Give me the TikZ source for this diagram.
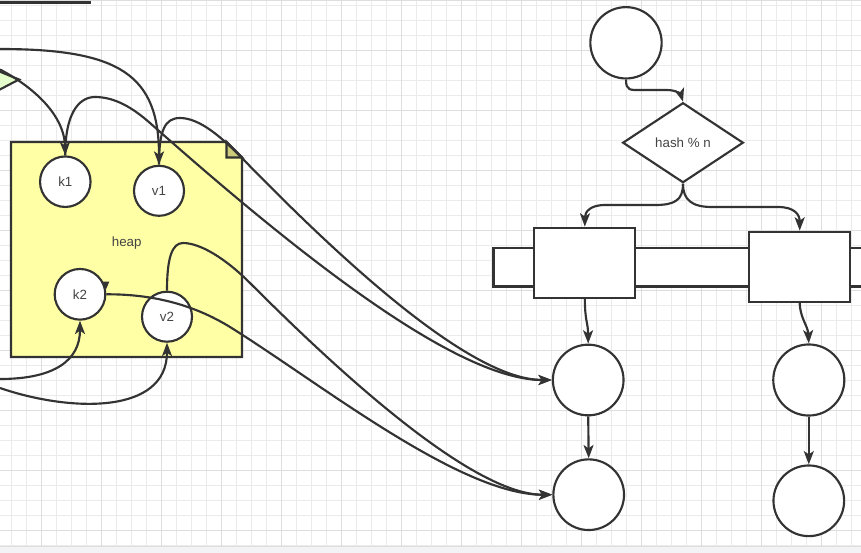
\documentclass[tikz,border=0pt]{standalone}
\usepackage{fontspec}
\setmainfont{Liberation Sans}
\usetikzlibrary{shapes.geometric,arrows.meta,calc}
\definecolor{dk}{HTML}{333333}
\definecolor{tx}{HTML}{444444}
\definecolor{gminor}{HTML}{EBEBEB}
\definecolor{gmajor}{HTML}{DEDEDE}
\definecolor{notefill}{HTML}{FFFFA6}
\definecolor{notefold}{HTML}{CCCC7A}
\definecolor{greenfill}{HTML}{E4FFCC}
\definecolor{band}{HTML}{F3F3F5}
\tikzset{
  ln/.style={draw=dk, line width=1.6pt},
  arr/.style={ln, -{Stealth[length=10pt,width=7.5pt,inset=2.5pt]}},
  circ/.style={circle, draw=dk, fill=white, line width=1.6pt, inner sep=0pt, font=\fontsize{10pt}{12pt}\selectfont, text=tx},
  boxs/.style={rectangle, draw=dk, fill=white, line width=1.6pt, inner sep=0pt},
  gmin/.style={draw=gminor, line width=0.75pt},
  gmaj/.style={draw=gmajor, line width=0.75pt},
}
\begin{document}
\begin{tikzpicture}[x=0.75pt,y=-0.75pt]
\clip (0,0) rectangle (861,553);
\fill[white] (0,0) rectangle (861,553);
% grid
\foreach \i in {0,...,58} { \draw[gmin] ({-3.3+15*\i},0) -- ({-3.3+15*\i},553); }
\foreach \i in {0,...,37} { \draw[gmin] (0,{5+15*\i}) -- (861,{5+15*\i}); }
\foreach \i in {0,...,14} { \draw[gmaj] ({41.7+60*\i},0) -- ({41.7+60*\i},553); }
\foreach \i in {0,...,9} { \draw[gmaj] (0,{50+60*\i}) -- (861,{50+60*\i}); }
\fill[band] (0,547) rectangle (861,553);
\draw[draw=gmajor, line width=0.9pt] (0,546.8) -- (861,546.8);
\draw[draw=gmajor, line width=1pt] (0,0.7) -- (861,0.7);
\draw[dk, line width=1.8pt] (0,2.7) -- (90.7,2.7);
% green triangle
\filldraw[ln, fill=greenfill] (-3,70.5) -- (19,79.5) -- (-3,91) -- cycle;
% heap note
\node[minimum width=173.25pt, minimum height=161.25pt, inner sep=0pt, outer sep=0pt] (heap) at (126.5,249.5) {};
\filldraw[ln, fill=notefill] (heap.north west) -- ($(heap.north east)+(-15.5,0)$) -- ($(heap.north east)+(0,15.5)$) -- (heap.south east) -- (heap.south west) -- cycle;
\filldraw[ln, fill=notefold] ($(heap.north east)+(-15.5,0)$) -- ($(heap.north east)+(-15.5,15.5)$) -- ($(heap.north east)+(0,15.5)$) -- cycle;
\node[font=\fontsize{10pt}{12pt}\selectfont, text=tx] (heaplbl) at (126.7,243) {heap};
% heap circles
\node[circ, minimum size=37.9pt] (k1) at (65.3,181.7) {k1};
\node[circ, minimum size=37.5pt] (v1) at (159,190.8) {v1};
\node[circ, minimum size=38pt] (k2) at (80,294.3) {k2};
\node[circ, minimum size=37.5pt] (v2) at (167,316.7) {v2};
\fill[dk] ($(k2.center)+(22.3,-12.6)$) -- ++(7,0) -- ++(-3.3,7.6) -- cycle;
% right side
\node[circ, minimum size=53.5pt] (top) at (626,42.8) {};
\node[diamond, draw=dk, fill=white, line width=1.6pt, minimum width=90.5pt, minimum height=60pt, inner sep=0pt, aspect=1.5, font=\fontsize{10pt}{12pt}\selectfont, text=tx] (hash) at (683,142.7) {hash \% n};
\draw[ln, fill=white] (493.5,248.3) rectangle (880,286.5);
\node[boxs, minimum width=75.75pt, minimum height=52.5pt] (b1) at (584.8,262.7) {};
\node[boxs, minimum width=75.5pt, minimum height=52.5pt] (b2) at (799.7,266.7) {};
\node[circ, minimum size=53pt] (A) at (588.2,380) {};
\node[circ, minimum size=53pt] (B) at (588.7,494.7) {};
\node[circ, minimum size=53.3pt] (C) at (808.8,380) {};
\node[circ, minimum size=53pt] (D) at (808.8,500.8) {};
% free ends
\coordinate (L1) at (0,49);
\coordinate (L2) at (0,69.5);
\coordinate (L3) at (0,379);
\coordinate (L4) at (0,388);
% connectors left
\draw[arr] (L1) .. controls (120,49) and (159,75) .. (v1.north);
\draw[arr] (L2) .. controls (28,84) and (64,112) .. (k1.north);
\draw[arr] (k1.north) .. controls (65,115) and (78,97) .. (95,97) .. controls (115,97) and (133,108) .. (150,123) .. controls (310,265) and (460,380) .. (A.west);
\draw[arr] (v1.north) .. controls (159,130) and (165,118) .. (180,118) .. controls (200,118) and (222,138) .. (240,156) .. controls (370,290) and (480,380) .. (A.west);
\draw[arr] (v2.north) .. controls (167,258) and (172,243) .. (183,243) .. controls (200,243) and (225,258) .. (250,283) .. controls (330,363) and (470,495) .. (B.west);
\draw[arr] (k2.east) .. controls (160,294) and (200,308.5) .. (230,327) .. controls (320,383) and (460,495) .. (B.west);
\draw[arr] (L3) .. controls (55,379) and (80,360) .. (k2.south);
\draw[arr] (L4) .. controls (70,412) and (167,415) .. (v2.south);
% connectors right
\draw[arr] (top.south) .. controls (626,91) and (630,90) .. (642,90) -- (667,90) .. controls (677,90) and (681,95) .. (hash.north);
\draw[arr] (hash.south) .. controls (683,200) and (675,205) .. (655,205) -- (605,205) .. controls (590,205) and (585,212) .. (b1.north);
\draw[arr] (hash.south) .. controls (683,200) and (692,207) .. (712,207) -- (778,207) .. controls (795,207) and (799.7,215) .. (b2.north);
\draw[arr] (b1.south) .. controls (585,322) and (588,322) .. (A.north);
\draw[arr] (b2.south) .. controls (800,318) and (808,326) .. (C.north);
\draw[arr] (A.south) -- (B.north);
\draw[arr] (C.south) -- (D.north);
\end{tikzpicture}
\end{document}
